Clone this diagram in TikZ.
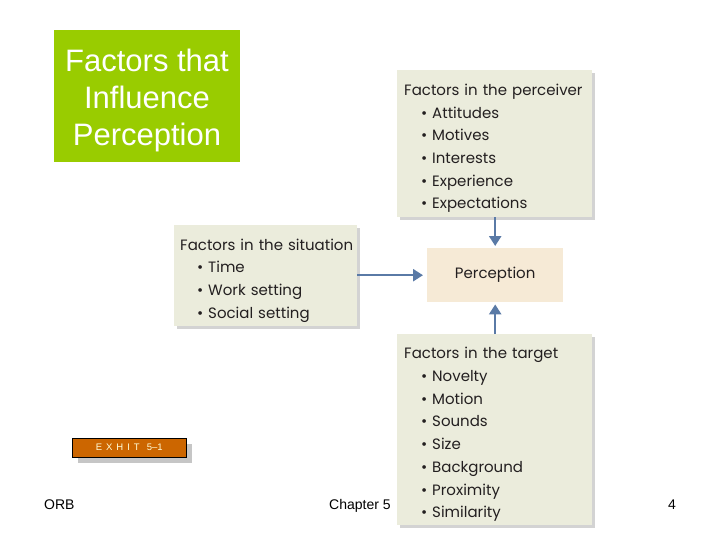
\documentclass[tikz,border=0pt]{standalone}
\usepackage{fontspec}
\setmainfont{Liberation Sans}
\newfontfamily\boxfont{Poppins}
\usetikzlibrary{arrows.meta,shadows}
\definecolor{titlegreen}{HTML}{99CC00}
\definecolor{boxfill}{HTML}{EBECDC}
\definecolor{percfill}{HTML}{F6EAD6}
\definecolor{arrowblue}{HTML}{5A7AA6}
\definecolor{textdark}{HTML}{231F20}
\definecolor{exhorange}{HTML}{CC6600}
\newcommand\bitem[1]{\hspace*{17pt}\makebox[11pt][l]{\textbullet}#1}
\newcommand\hdr[1]{\mbox{\rule{0pt}{21pt}#1}}
\begin{document}
\begin{tikzpicture}[x=1pt,y=-1pt,
  factorbox/.style={fill=boxfill, anchor=north west, align=left, inner xsep=7pt, inner ysep=0pt,
    font=\boxfont\fontsize{15}{22.7}\selectfont, text=textdark,
    drop shadow={shadow xshift=3pt, shadow yshift=-3pt, opacity=0.35, fill=gray}},
  flow/.style={draw=arrowblue, line width=2.4pt, -{Triangle[width=12pt,length=10pt]}, shorten >=2pt},
  footer/.style={font=\fontsize{14}{16}\selectfont, text=black, anchor=base west, inner sep=0pt}]
\useasboundingbox (0,0) rectangle (720,540);
% title
\fill[titlegreen] (54,30) rectangle (240,162);
\node[inner sep=0pt, align=center, text=white, font=\fontsize{31}{37}\selectfont] (title) at (147,100)
  {Factors that\\Influence\\Perception};
% perceiver
\node[factorbox, minimum width=195pt, minimum height=147pt, text width=181pt] (perc) at (397,70)
  {\hdr{Factors in the perceiver}\\\bitem{Attitudes}\\\bitem{Motives}\\\bitem{Interests}\\\bitem{Experience}\\\bitem{Expectations}};
% situation
\node[factorbox, inner xsep=6pt, minimum width=183pt, minimum height=101pt, text width=171pt] (sit) at (174,225)
  {\hdr{Factors in the situation}\\\bitem{Time}\\\bitem{Work setting}\\\bitem{Social setting}};
% target
\node[factorbox, minimum width=195pt, minimum height=191pt, text width=181pt] (targ) at (397,334)
  {\hdr{Factors in the target}\\\bitem{Novelty}\\\bitem{Motion}\\\bitem{Sounds}\\\bitem{Size}\\\bitem{Background}\\\bitem{Proximity}\\\bitem{Similarity}};
% perception
\node[fill=percfill, anchor=north west, minimum width=136pt, minimum height=54pt, inner sep=0pt,
  font=\boxfont\fontsize{15}{18}\selectfont, text=textdark] (percep) at (427,248) {Perception};
% arrows
\draw[flow] (perc.south -| percep.north) -- (percep.north);
\draw[flow, shorten >=4pt] (sit.east |- percep.west) -- (percep.west);
\draw[flow] (targ.north -| percep.south) -- (percep.south);
% exhibit tag
\fill[gray!45] (78,444) rectangle (192,463);
\node[draw=black, fill=exhorange, anchor=north west, minimum width=114pt, minimum height=19pt, inner sep=0pt,
  text=white!85!yellow, font=\fontsize{9.5}{10}\selectfont] (exh) at (72,438)
  {E\hspace{4pt}X\hspace{4pt}H\hspace{4pt}I\hspace{4pt}T\hspace{7pt}5--1};
% footer
\node[footer] (orb) at (44,509) {ORB};
\node[footer] (chap) at (329,509) {Chapter 5};
\node[footer] (pg) at (668,509) {4};
\end{tikzpicture}
\end{document}
